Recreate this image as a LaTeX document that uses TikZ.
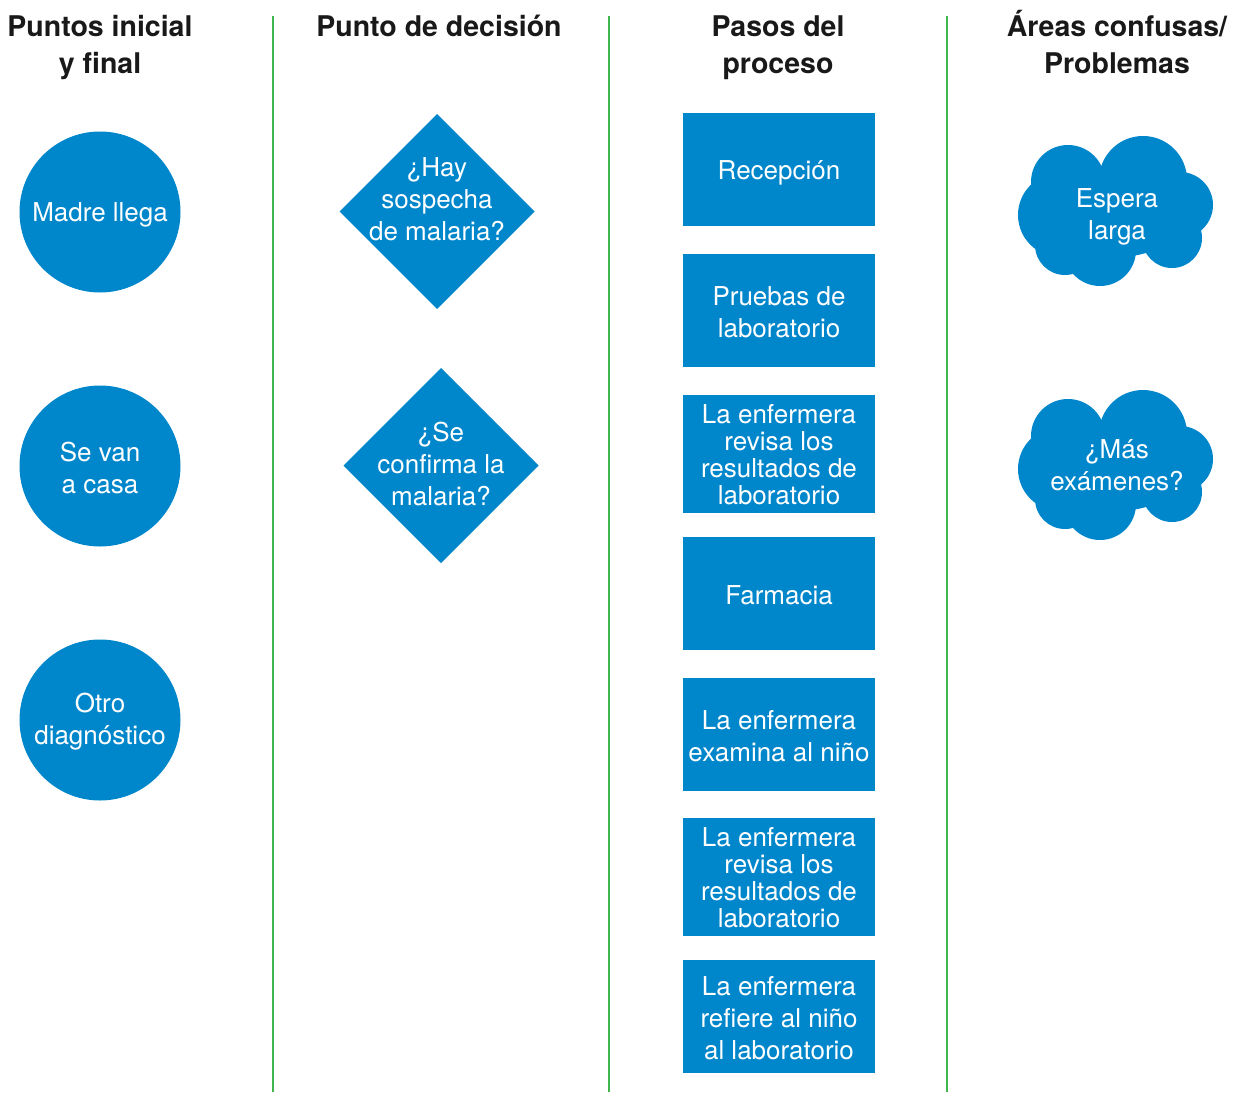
\documentclass[tikz,border=0pt]{standalone}
\usepackage{fontspec}
\setmainfont{TeX Gyre Heros}
\definecolor{flowblue}{RGB}{0,134,203}
\definecolor{lanegreen}{RGB}{64,182,78}
\tikzset{
  lane/.style={draw=lanegreen, line width=2.6pt},
  header/.style={font=\fontsize{28.5}{37}\selectfont\bfseries, text=black!90, anchor=base, inner sep=0pt},
  bodytext/.style={text=white, align=center, font=\fontsize{26}{32}\selectfont, yshift=-2pt, inner sep=0pt},
  tighttext/.style={text=white, align=center, font=\fontsize{26}{27}\selectfont, yshift=-1pt, inner sep=0pt},
  terminal/.style={circle, fill=flowblue, minimum size=161pt, inner sep=0pt},
  stepbox/.style={rectangle, fill=flowblue, minimum width=192pt, minimum height=113pt, inner sep=0pt},
  tallbox/.style={stepbox, minimum height=118pt},
  cloudblob/.pic={
    \fill[flowblue] (-49,-30) circle[radius=37]
                    (26,-32) circle[radius=44]
                    (63,-7) circle[radius=33]
                    (55,26) circle[radius=30]
                    (-17,38) circle[radius=36]
                    (-57,3) circle[radius=42]
                    (-52,33) circle[radius=30]
                    (0,0) ellipse[x radius=70, y radius=45];
  },
  diamondpic/.pic={
    \fill[flowblue] (0,-97.5) -- (97.5,0) -- (0,97.5) -- (-97.5,0) -- cycle;
  }
}
\begin{document}
\begin{tikzpicture}[x=1pt, y=-1pt]
\useasboundingbox (0,0) rectangle (1239,1092);

% lane dividers
\coordinate (l1t) at (273,16);  \coordinate (l1b) at (273,1092);
\coordinate (l2t) at (609,16);  \coordinate (l2b) at (609,1092);
\coordinate (l3t) at (947,16);  \coordinate (l3b) at (947,1092);
\draw[lane] (l1t) -- (l1b);
\draw[lane] (l2t) -- (l2b);
\draw[lane] (l3t) -- (l3b);

% column headings, one node per line on its baseline
\node[header] (h1a) at (100,36) {Puntos inicial};
\node[header] (h1b) at (100,73) {y final};
\node[header] (h2)  at (439,36) {Punto de decisión};
\node[header] (h3a) at (778,36) {Pasos del};
\node[header] (h3b) at (778,73) {proceso};
\node[header] (h4a) at (1117,36) {Áreas confusas/};
\node[header] (h4b) at (1117,73) {Problemas};

% start and end points
\node[terminal] (t1) at (100,212) {};
\node[bodytext, yshift=-1pt] (t1text) at (t1) {Madre llega};
\node[terminal] (t2) at (100,466) {};
\node[bodytext] (t2text) at (t2) {Se van\\a casa};
\node[terminal] (t3) at (100,720) {};
\node[bodytext] (t3text) at (t3) {Otro\\diagnóstico};

% decision points
\pic at (437,211.5) {diamondpic};
\node[bodytext] (d1) at (437,197) {¿Hay\\sospecha\\de malaria?};
\pic at (441,465.5) {diamondpic};
\node[bodytext] (d2) at (441,462) {¿Se\\confirma la\\malaria?};

% process steps
\node[stepbox] (s1) at (779,169.5) {};
\node[bodytext, yshift=-1pt] (s1text) at (s1) {Recepción};
\node[stepbox] (s2) at (779,310.5) {};
\node[bodytext] (s2text) at (s2) {Pruebas de\\laboratorio};
\node[tallbox] (s3) at (779,454) {};
\node[tighttext] (s3text) at (s3) {La enfermera\\revisa los\\resultados de\\laboratorio};
\node[stepbox] (s4) at (779,593.5) {};
\node[bodytext] (s4text) at (s4) {Farmacia};
\node[stepbox] (s5) at (779,734.5) {};
\node[bodytext] (s5text) at (s5) {La enfermera\\examina al niño};
\node[tallbox] (s6) at (779,877) {};
\node[tighttext] (s6text) at (s6) {La enfermera\\revisa los\\resultados de\\laboratorio};
\node[stepbox] (s7) at (779,1016.5) {};
\node[bodytext] (s7text) at (s7) {La enfermera\\refiere al niño\\al laboratorio};

% problem areas
\pic at (1117,212) {cloudblob};
\node[bodytext] (c1) at (1117,215) {Espera\\larga};
\pic at (1117,466) {cloudblob};
\node[bodytext] (c2) at (1117,463) {¿Más\\exámenes?};
\end{tikzpicture}
\end{document}
